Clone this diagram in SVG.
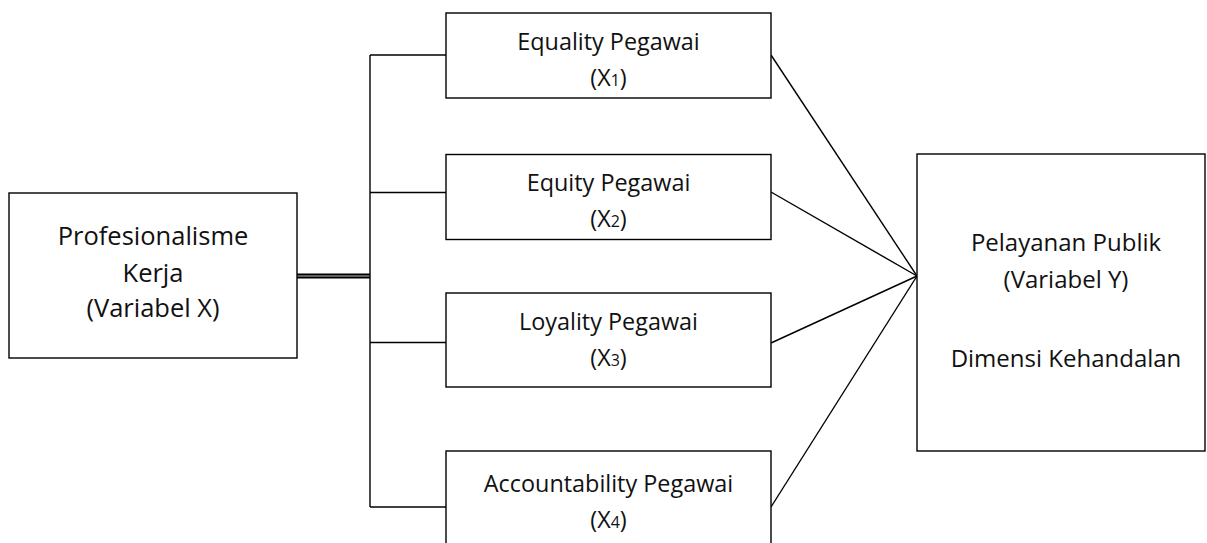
<svg xmlns="http://www.w3.org/2000/svg" width="1207" height="543" viewBox="0 0 1207 543">
<style>
.box{fill:#fff;stroke:#000;stroke-width:1.4}
.ln{stroke:#000;stroke-width:1.4;fill:none}
.dbl{stroke:#000;stroke-width:1.8;fill:none}
.dblmid{stroke:#555;stroke-width:1.6;fill:none}
text{font-family:"Open Sans",Lato,sans-serif;font-size:23.4px;fill:#111;text-anchor:middle}
.big{font-size:25.5px}
.mid{font-size:24px}
.sub{font-size:16px}
</style>
<rect width="1207" height="543" fill="#fff"/>
<g id="connectors">
<line class="dblmid" x1="297" y1="276" x2="370" y2="276"/>
<line class="dbl" x1="297" y1="274.3" x2="370" y2="274.3"/>
<line class="dbl" x1="297" y1="277.7" x2="370" y2="277.7"/>
<line class="ln" x1="370" y1="55" x2="370" y2="507"/>
<line class="ln" x1="370" y1="55" x2="446" y2="55"/>
<line class="ln" x1="370" y1="192.5" x2="446" y2="192.5"/>
<line class="ln" x1="370" y1="342.5" x2="446" y2="342.5"/>
<line class="ln" x1="370" y1="507" x2="446" y2="507"/>
<line class="ln" x1="771" y1="55" x2="917" y2="276"/>
<line class="ln" x1="771" y1="192" x2="917" y2="276"/>
<line class="ln" x1="771" y1="343" x2="917" y2="276"/>
<line class="ln" x1="771" y1="507" x2="917" y2="276"/>
</g>
<g id="node-x">
<rect class="box" x="9" y="193" width="288" height="165"/>
<text class="big" x="153" y="245">Profesionalisme</text>
<text class="big" x="153" y="282">Kerja</text>
<text class="big" x="153" y="317">(Variabel X)</text>
</g>
<g id="node-x1">
<rect class="box" x="446" y="13" width="325" height="85"/>
<text x="608.5" y="49.5">Equality Pegawai</text>
<text x="608.5" y="85.5">(X<tspan class="sub">1</tspan>)</text>
</g>
<g id="node-x2">
<rect class="box" x="446" y="154.5" width="325" height="85"/>
<text x="608.5" y="191">Equity Pegawai</text>
<text x="608.5" y="227">(X<tspan class="sub">2</tspan>)</text>
</g>
<g id="node-x3">
<rect class="box" x="446" y="293" width="325" height="94"/>
<text x="608.5" y="329.5">Loyality Pegawai</text>
<text x="608.5" y="365.5">(X<tspan class="sub">3</tspan>)</text>
</g>
<g id="node-x4">
<rect class="box" x="446" y="451" width="325" height="100"/>
<text x="608.5" y="492">Accountability Pegawai</text>
<text x="608.5" y="528">(X<tspan class="sub">4</tspan>)</text>
</g>
<g id="node-y">
<rect class="box" x="917" y="154" width="288" height="297"/>
<text class="mid" x="1066" y="251">Pelayanan Publik</text>
<text class="mid" x="1066" y="288">(Variabel Y)</text>
<text class="mid" x="1066" y="367">Dimensi Kehandalan</text>
</g>
</svg>
